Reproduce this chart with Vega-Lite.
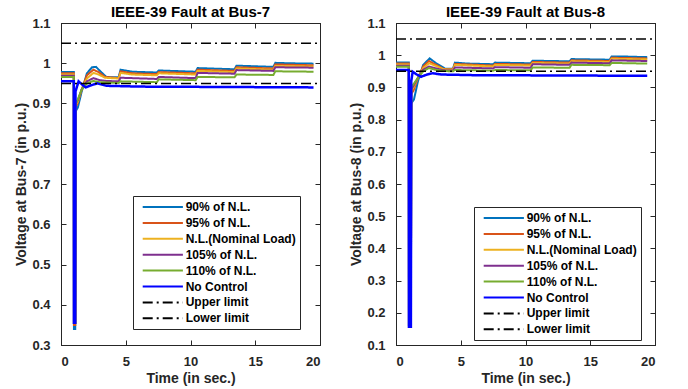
{
  "$schema": "https://vega.github.io/schema/vega-lite/v6.json",
  "background": "white",
  "padding": {"left": 14, "top": 4, "right": 5, "bottom": 2},
  "spacing": 28,
  "config": {
    "view": {"stroke": "#262626", "strokeWidth": 1},
    "font": "Liberation Sans",
    "axis": {"grid": false, "domainColor": "#262626", "domainWidth": 1, "tickColor": "#262626", "tickSize": -5, "tickWidth": 1, "labelFont": "Liberation Sans", "labelFontSize": 13, "labelFontWeight": "bold", "labelColor": "#262626", "labelPadding": 16, "titleFont": "Liberation Sans", "titleFontSize": 14, "titleFontWeight": "bold", "titleColor": "#262626", "titlePadding": 3},
    "title": {"font": "Liberation Sans", "fontSize": 15, "fontWeight": "bold", "color": "#000000", "offset": -3},
    "legend": {"orient": "none", "title": null, "labelFont": "Liberation Sans", "labelFontSize": 12, "labelFontWeight": "bold", "labelColor": "#000000", "strokeColor": "#262626", "fillColor": "white", "padding": 4, "symbolStrokeWidth": 2, "rowPadding": 2.9, "labelOffset": 30, "symbolOffset": 4.7, "symbolSize": 144}
  },
  "resolve": {"scale": {"color": "independent", "strokeDash": "independent"}},
  "datasets": {
    "b7": [
      {"s": "90% of N.L.", "t": 0, "v": 0.978}, {"s": "90% of N.L.", "t": 0.99, "v": 0.978}, {"s": "90% of N.L.", "t": 1.0, "v": 0.34}, {"s": "90% of N.L.", "t": 1.1, "v": 0.34}, {"s": "90% of N.L.", "t": 1.12, "v": 0.88}, {"s": "90% of N.L.", "t": 1.3, "v": 0.89}, {"s": "90% of N.L.", "t": 1.6, "v": 0.93}, {"s": "90% of N.L.", "t": 2.0, "v": 0.975}, {"s": "90% of N.L.", "t": 2.4, "v": 0.99}, {"s": "90% of N.L.", "t": 2.7, "v": 0.991}, {"s": "90% of N.L.", "t": 3.1, "v": 0.978}, {"s": "90% of N.L.", "t": 3.5, "v": 0.966}, {"s": "90% of N.L.", "t": 4.0, "v": 0.965}, {"s": "90% of N.L.", "t": 4.45, "v": 0.965}, {"s": "90% of N.L.", "t": 4.6, "v": 0.984}, {"s": "90% of N.L.", "t": 5.5, "v": 0.979}, {"s": "90% of N.L.", "t": 7.4, "v": 0.977}, {"s": "90% of N.L.", "t": 7.55, "v": 0.982}, {"s": "90% of N.L.", "t": 10.4, "v": 0.979}, {"s": "90% of N.L.", "t": 10.55, "v": 0.988}, {"s": "90% of N.L.", "t": 13.4, "v": 0.985}, {"s": "90% of N.L.", "t": 13.55, "v": 0.994}, {"s": "90% of N.L.", "t": 16.4, "v": 0.991}, {"s": "90% of N.L.", "t": 16.55, "v": 1.001}, {"s": "90% of N.L.", "t": 17.5, "v": 1.0}, {"s": "90% of N.L.", "t": 19.5, "v": 0.999},
      {"s": "95% of N.L.", "t": 0, "v": 0.975}, {"s": "95% of N.L.", "t": 0.99, "v": 0.975}, {"s": "95% of N.L.", "t": 1.0, "v": 0.35}, {"s": "95% of N.L.", "t": 1.1, "v": 0.35}, {"s": "95% of N.L.", "t": 1.12, "v": 0.89}, {"s": "95% of N.L.", "t": 1.3, "v": 0.902}, {"s": "95% of N.L.", "t": 1.6, "v": 0.935}, {"s": "95% of N.L.", "t": 2.0, "v": 0.97}, {"s": "95% of N.L.", "t": 2.5, "v": 0.984}, {"s": "95% of N.L.", "t": 2.9, "v": 0.978}, {"s": "95% of N.L.", "t": 3.4, "v": 0.966}, {"s": "95% of N.L.", "t": 4.45, "v": 0.963}, {"s": "95% of N.L.", "t": 4.6, "v": 0.98}, {"s": "95% of N.L.", "t": 5.5, "v": 0.975}, {"s": "95% of N.L.", "t": 7.4, "v": 0.973}, {"s": "95% of N.L.", "t": 7.55, "v": 0.978}, {"s": "95% of N.L.", "t": 10.4, "v": 0.975}, {"s": "95% of N.L.", "t": 10.55, "v": 0.984}, {"s": "95% of N.L.", "t": 13.4, "v": 0.981}, {"s": "95% of N.L.", "t": 13.55, "v": 0.99}, {"s": "95% of N.L.", "t": 16.4, "v": 0.987}, {"s": "95% of N.L.", "t": 16.55, "v": 0.997}, {"s": "95% of N.L.", "t": 19.5, "v": 0.995},
      {"s": "N.L.(Nominal Load)", "t": 0, "v": 0.972}, {"s": "N.L.(Nominal Load)", "t": 0.99, "v": 0.972}, {"s": "N.L.(Nominal Load)", "t": 1.0, "v": 0.355}, {"s": "N.L.(Nominal Load)", "t": 1.1, "v": 0.355}, {"s": "N.L.(Nominal Load)", "t": 1.12, "v": 0.895}, {"s": "N.L.(Nominal Load)", "t": 1.3, "v": 0.905}, {"s": "N.L.(Nominal Load)", "t": 1.6, "v": 0.935}, {"s": "N.L.(Nominal Load)", "t": 2.0, "v": 0.962}, {"s": "N.L.(Nominal Load)", "t": 2.5, "v": 0.976}, {"s": "N.L.(Nominal Load)", "t": 2.9, "v": 0.972}, {"s": "N.L.(Nominal Load)", "t": 3.4, "v": 0.964}, {"s": "N.L.(Nominal Load)", "t": 4.45, "v": 0.962}, {"s": "N.L.(Nominal Load)", "t": 4.6, "v": 0.976}, {"s": "N.L.(Nominal Load)", "t": 5.5, "v": 0.972}, {"s": "N.L.(Nominal Load)", "t": 7.4, "v": 0.97}, {"s": "N.L.(Nominal Load)", "t": 7.55, "v": 0.975}, {"s": "N.L.(Nominal Load)", "t": 10.4, "v": 0.972}, {"s": "N.L.(Nominal Load)", "t": 10.55, "v": 0.981}, {"s": "N.L.(Nominal Load)", "t": 13.4, "v": 0.978}, {"s": "N.L.(Nominal Load)", "t": 13.55, "v": 0.987}, {"s": "N.L.(Nominal Load)", "t": 16.4, "v": 0.984}, {"s": "N.L.(Nominal Load)", "t": 16.55, "v": 0.993}, {"s": "N.L.(Nominal Load)", "t": 19.5, "v": 0.992},
      {"s": "105% of N.L.", "t": 0, "v": 0.969}, {"s": "105% of N.L.", "t": 0.99, "v": 0.969}, {"s": "105% of N.L.", "t": 1.0, "v": 0.355}, {"s": "105% of N.L.", "t": 1.1, "v": 0.355}, {"s": "105% of N.L.", "t": 1.12, "v": 0.9}, {"s": "105% of N.L.", "t": 1.3, "v": 0.908}, {"s": "105% of N.L.", "t": 1.6, "v": 0.935}, {"s": "105% of N.L.", "t": 2.0, "v": 0.955}, {"s": "105% of N.L.", "t": 2.5, "v": 0.963}, {"s": "105% of N.L.", "t": 3.0, "v": 0.958}, {"s": "105% of N.L.", "t": 3.5, "v": 0.956}, {"s": "105% of N.L.", "t": 4.45, "v": 0.955}, {"s": "105% of N.L.", "t": 4.6, "v": 0.964}, {"s": "105% of N.L.", "t": 7.4, "v": 0.961}, {"s": "105% of N.L.", "t": 7.55, "v": 0.966}, {"s": "105% of N.L.", "t": 10.4, "v": 0.963}, {"s": "105% of N.L.", "t": 10.55, "v": 0.976}, {"s": "105% of N.L.", "t": 13.4, "v": 0.974}, {"s": "105% of N.L.", "t": 13.55, "v": 0.983}, {"s": "105% of N.L.", "t": 16.4, "v": 0.981}, {"s": "105% of N.L.", "t": 16.55, "v": 0.99}, {"s": "105% of N.L.", "t": 19.5, "v": 0.989},
      {"s": "110% of N.L.", "t": 0, "v": 0.966}, {"s": "110% of N.L.", "t": 0.99, "v": 0.966}, {"s": "110% of N.L.", "t": 1.0, "v": 0.355}, {"s": "110% of N.L.", "t": 1.1, "v": 0.355}, {"s": "110% of N.L.", "t": 1.12, "v": 0.9}, {"s": "110% of N.L.", "t": 1.3, "v": 0.91}, {"s": "110% of N.L.", "t": 1.6, "v": 0.935}, {"s": "110% of N.L.", "t": 2.0, "v": 0.95}, {"s": "110% of N.L.", "t": 2.5, "v": 0.956}, {"s": "110% of N.L.", "t": 3.0, "v": 0.953}, {"s": "110% of N.L.", "t": 4.45, "v": 0.951}, {"s": "110% of N.L.", "t": 4.6, "v": 0.955}, {"s": "110% of N.L.", "t": 7.4, "v": 0.953}, {"s": "110% of N.L.", "t": 7.55, "v": 0.96}, {"s": "110% of N.L.", "t": 10.4, "v": 0.958}, {"s": "110% of N.L.", "t": 10.55, "v": 0.966}, {"s": "110% of N.L.", "t": 13.4, "v": 0.965}, {"s": "110% of N.L.", "t": 13.55, "v": 0.972}, {"s": "110% of N.L.", "t": 16.4, "v": 0.971}, {"s": "110% of N.L.", "t": 16.55, "v": 0.98}, {"s": "110% of N.L.", "t": 19.5, "v": 0.979},
      {"s": "No Control", "t": 0, "v": 0.955}, {"s": "No Control", "t": 0.99, "v": 0.955}, {"s": "No Control", "t": 1.0, "v": 0.355}, {"s": "No Control", "t": 1.1, "v": 0.355}, {"s": "No Control", "t": 1.12, "v": 0.93}, {"s": "No Control", "t": 1.36, "v": 0.955}, {"s": "No Control", "t": 1.6, "v": 0.948}, {"s": "No Control", "t": 1.9, "v": 0.94}, {"s": "No Control", "t": 2.3, "v": 0.945}, {"s": "No Control", "t": 2.8, "v": 0.95}, {"s": "No Control", "t": 3.5, "v": 0.944}, {"s": "No Control", "t": 6, "v": 0.942}, {"s": "No Control", "t": 19.5, "v": 0.94},
      {"s": "Upper limit", "t": 0, "v": 1.05}, {"s": "Upper limit", "t": 20, "v": 1.05},
      {"s": "Lower limit", "t": 0, "v": 0.95}, {"s": "Lower limit", "t": 20, "v": 0.95}
    ],
    "b8": [
      {"s": "90% of N.L.", "t": 0, "v": 0.977}, {"s": "90% of N.L.", "t": 0.99, "v": 0.977}, {"s": "90% of N.L.", "t": 1.0, "v": 0.157}, {"s": "90% of N.L.", "t": 1.15, "v": 0.157}, {"s": "90% of N.L.", "t": 1.18, "v": 0.85}, {"s": "90% of N.L.", "t": 1.39, "v": 0.863}, {"s": "90% of N.L.", "t": 1.7, "v": 0.92}, {"s": "90% of N.L.", "t": 2.1, "v": 0.97}, {"s": "90% of N.L.", "t": 2.6, "v": 0.99}, {"s": "90% of N.L.", "t": 3.1, "v": 0.975}, {"s": "90% of N.L.", "t": 3.8, "v": 0.958}, {"s": "90% of N.L.", "t": 4.4, "v": 0.958}, {"s": "90% of N.L.", "t": 4.55, "v": 0.977}, {"s": "90% of N.L.", "t": 5.5, "v": 0.974}, {"s": "90% of N.L.", "t": 7.5, "v": 0.972}, {"s": "90% of N.L.", "t": 7.65, "v": 0.977}, {"s": "90% of N.L.", "t": 10.4, "v": 0.975}, {"s": "90% of N.L.", "t": 10.55, "v": 0.983}, {"s": "90% of N.L.", "t": 13.4, "v": 0.981}, {"s": "90% of N.L.", "t": 13.55, "v": 0.988}, {"s": "90% of N.L.", "t": 16.5, "v": 0.986}, {"s": "90% of N.L.", "t": 16.65, "v": 0.996}, {"s": "90% of N.L.", "t": 17.5, "v": 0.996}, {"s": "90% of N.L.", "t": 19.4, "v": 0.994},
      {"s": "95% of N.L.", "t": 0, "v": 0.974}, {"s": "95% of N.L.", "t": 0.99, "v": 0.974}, {"s": "95% of N.L.", "t": 1.0, "v": 0.16}, {"s": "95% of N.L.", "t": 1.15, "v": 0.16}, {"s": "95% of N.L.", "t": 1.18, "v": 0.88}, {"s": "95% of N.L.", "t": 1.35, "v": 0.89}, {"s": "95% of N.L.", "t": 1.7, "v": 0.93}, {"s": "95% of N.L.", "t": 2.1, "v": 0.965}, {"s": "95% of N.L.", "t": 2.55, "v": 0.982}, {"s": "95% of N.L.", "t": 3.0, "v": 0.972}, {"s": "95% of N.L.", "t": 3.7, "v": 0.957}, {"s": "95% of N.L.", "t": 4.4, "v": 0.956}, {"s": "95% of N.L.", "t": 4.55, "v": 0.973}, {"s": "95% of N.L.", "t": 7.5, "v": 0.968}, {"s": "95% of N.L.", "t": 7.65, "v": 0.973}, {"s": "95% of N.L.", "t": 10.4, "v": 0.971}, {"s": "95% of N.L.", "t": 10.55, "v": 0.979}, {"s": "95% of N.L.", "t": 13.4, "v": 0.977}, {"s": "95% of N.L.", "t": 13.55, "v": 0.984}, {"s": "95% of N.L.", "t": 16.5, "v": 0.982}, {"s": "95% of N.L.", "t": 16.65, "v": 0.992}, {"s": "95% of N.L.", "t": 19.4, "v": 0.99},
      {"s": "N.L.(Nominal Load)", "t": 0, "v": 0.971}, {"s": "N.L.(Nominal Load)", "t": 0.99, "v": 0.971}, {"s": "N.L.(Nominal Load)", "t": 1.0, "v": 0.162}, {"s": "N.L.(Nominal Load)", "t": 1.15, "v": 0.162}, {"s": "N.L.(Nominal Load)", "t": 1.18, "v": 0.89}, {"s": "N.L.(Nominal Load)", "t": 1.35, "v": 0.9}, {"s": "N.L.(Nominal Load)", "t": 1.7, "v": 0.93}, {"s": "N.L.(Nominal Load)", "t": 2.1, "v": 0.96}, {"s": "N.L.(Nominal Load)", "t": 2.55, "v": 0.975}, {"s": "N.L.(Nominal Load)", "t": 3.0, "v": 0.968}, {"s": "N.L.(Nominal Load)", "t": 3.7, "v": 0.956}, {"s": "N.L.(Nominal Load)", "t": 4.4, "v": 0.955}, {"s": "N.L.(Nominal Load)", "t": 4.55, "v": 0.97}, {"s": "N.L.(Nominal Load)", "t": 7.5, "v": 0.965}, {"s": "N.L.(Nominal Load)", "t": 7.65, "v": 0.97}, {"s": "N.L.(Nominal Load)", "t": 10.4, "v": 0.968}, {"s": "N.L.(Nominal Load)", "t": 10.55, "v": 0.976}, {"s": "N.L.(Nominal Load)", "t": 13.4, "v": 0.974}, {"s": "N.L.(Nominal Load)", "t": 13.55, "v": 0.981}, {"s": "N.L.(Nominal Load)", "t": 16.5, "v": 0.979}, {"s": "N.L.(Nominal Load)", "t": 16.65, "v": 0.989}, {"s": "N.L.(Nominal Load)", "t": 19.4, "v": 0.987},
      {"s": "105% of N.L.", "t": 0, "v": 0.967}, {"s": "105% of N.L.", "t": 0.99, "v": 0.967}, {"s": "105% of N.L.", "t": 1.0, "v": 0.162}, {"s": "105% of N.L.", "t": 1.15, "v": 0.162}, {"s": "105% of N.L.", "t": 1.18, "v": 0.895}, {"s": "105% of N.L.", "t": 1.35, "v": 0.905}, {"s": "105% of N.L.", "t": 1.7, "v": 0.93}, {"s": "105% of N.L.", "t": 2.1, "v": 0.955}, {"s": "105% of N.L.", "t": 2.55, "v": 0.965}, {"s": "105% of N.L.", "t": 3.0, "v": 0.96}, {"s": "105% of N.L.", "t": 3.7, "v": 0.953}, {"s": "105% of N.L.", "t": 4.4, "v": 0.952}, {"s": "105% of N.L.", "t": 4.55, "v": 0.962}, {"s": "105% of N.L.", "t": 7.5, "v": 0.959}, {"s": "105% of N.L.", "t": 7.65, "v": 0.963}, {"s": "105% of N.L.", "t": 10.4, "v": 0.961}, {"s": "105% of N.L.", "t": 10.55, "v": 0.972}, {"s": "105% of N.L.", "t": 13.4, "v": 0.97}, {"s": "105% of N.L.", "t": 13.55, "v": 0.977}, {"s": "105% of N.L.", "t": 16.5, "v": 0.975}, {"s": "105% of N.L.", "t": 16.65, "v": 0.984}, {"s": "105% of N.L.", "t": 19.4, "v": 0.982},
      {"s": "110% of N.L.", "t": 0, "v": 0.964}, {"s": "110% of N.L.", "t": 0.99, "v": 0.964}, {"s": "110% of N.L.", "t": 1.0, "v": 0.162}, {"s": "110% of N.L.", "t": 1.15, "v": 0.162}, {"s": "110% of N.L.", "t": 1.18, "v": 0.9}, {"s": "110% of N.L.", "t": 1.35, "v": 0.91}, {"s": "110% of N.L.", "t": 1.7, "v": 0.93}, {"s": "110% of N.L.", "t": 2.1, "v": 0.95}, {"s": "110% of N.L.", "t": 2.55, "v": 0.96}, {"s": "110% of N.L.", "t": 3.0, "v": 0.955}, {"s": "110% of N.L.", "t": 3.7, "v": 0.951}, {"s": "110% of N.L.", "t": 4.4, "v": 0.95}, {"s": "110% of N.L.", "t": 4.55, "v": 0.954}, {"s": "110% of N.L.", "t": 7.5, "v": 0.952}, {"s": "110% of N.L.", "t": 7.65, "v": 0.954}, {"s": "110% of N.L.", "t": 10.4, "v": 0.953}, {"s": "110% of N.L.", "t": 10.55, "v": 0.962}, {"s": "110% of N.L.", "t": 13.4, "v": 0.961}, {"s": "110% of N.L.", "t": 13.55, "v": 0.97}, {"s": "110% of N.L.", "t": 16.5, "v": 0.969}, {"s": "110% of N.L.", "t": 16.65, "v": 0.976}, {"s": "110% of N.L.", "t": 19.4, "v": 0.974},
      {"s": "No Control", "t": 0, "v": 0.954}, {"s": "No Control", "t": 0.99, "v": 0.954}, {"s": "No Control", "t": 1.0, "v": 0.157}, {"s": "No Control", "t": 1.15, "v": 0.157}, {"s": "No Control", "t": 1.18, "v": 0.92}, {"s": "No Control", "t": 1.29, "v": 0.949}, {"s": "No Control", "t": 1.6, "v": 0.94}, {"s": "No Control", "t": 1.93, "v": 0.933}, {"s": "No Control", "t": 2.4, "v": 0.94}, {"s": "No Control", "t": 2.83, "v": 0.944}, {"s": "No Control", "t": 3.5, "v": 0.94}, {"s": "No Control", "t": 6, "v": 0.938}, {"s": "No Control", "t": 19.4, "v": 0.936},
      {"s": "Upper limit", "t": 0, "v": 1.05}, {"s": "Upper limit", "t": 20, "v": 1.05},
      {"s": "Lower limit", "t": 0, "v": 0.95}, {"s": "Lower limit", "t": 20, "v": 0.95}
    ]
  },
  "hconcat": [
    {
      "title": "IEEE-39 Fault at Bus-7",
      "width": 259,
      "height": 322,
      "data": {"name": "b7"},
      "resolve": {"axis": {"x": "independent", "y": "independent"}},
      "layer": [
        {
          "transform": [{"filter": {"field": "s", "oneOf": ["90% of N.L.", "95% of N.L.", "N.L.(Nominal Load)", "105% of N.L.", "110% of N.L."]}}],
          "mark": {"type": "line", "strokeWidth": 2, "clip": true},
          "encoding": {
            "x": {"field": "t", "type": "quantitative", "scale": {"domain": [0, 20], "nice": false}, "axis": {"values": [0, 5, 10, 15, 20], "format": "~g", "title": "Time (in sec.)", "labelPadding": 15}},
            "y": {"field": "v", "type": "quantitative", "scale": {"domain": [0.3, 1.1], "nice": false, "zero": false}, "axis": {"values": [0.3, 0.4, 0.5, 0.6, 0.7, 0.8, 0.9, 1, 1.1], "format": "~g", "title": "Voltage at Bus-7 (in p.u.)"}},
            "color": {"field": "s", "type": "nominal", "scale": {"domain": ["90% of N.L.", "95% of N.L.", "N.L.(Nominal Load)", "105% of N.L.", "110% of N.L.", "No Control", "Upper limit", "Lower limit"], "range": ["#0072BD", "#D95319", "#EDB120", "#7E2F8E", "#77AC30", "#0000FF", "#000000", "#000000"]}, "legend": {"legendX": 72, "legendY": 173, "symbolType": "M-1,0H5.7"}},
            "strokeDash": {"field": "s", "type": "nominal", "scale": {"domain": ["90% of N.L.", "95% of N.L.", "N.L.(Nominal Load)", "105% of N.L.", "110% of N.L.", "No Control", "Upper limit", "Lower limit"], "range": [[1, 0], [1, 0], [1, 0], [1, 0], [1, 0], [1, 0], [10, 4, 2, 4], [10, 4, 2, 4]]}, "legend": {"legendX": 72, "legendY": 173, "symbolType": "M-1,0H5.7"}}
          }
        },
        {
          "transform": [{"filter": {"field": "s", "equal": "No Control"}}],
          "mark": {"type": "line", "strokeWidth": 2.5, "clip": true},
          "encoding": {
            "x": {"field": "t", "type": "quantitative", "axis": null},
            "y": {"field": "v", "type": "quantitative", "axis": null},
            "color": {"field": "s", "type": "nominal"},
            "strokeDash": {"field": "s", "type": "nominal"}
          }
        },
        {
          "transform": [{"filter": {"field": "s", "oneOf": ["Upper limit", "Lower limit"]}}],
          "mark": {"type": "line", "strokeWidth": 1.5, "clip": true},
          "encoding": {
            "x": {"field": "t", "type": "quantitative", "axis": {"orient": "top", "labels": false, "title": null, "values": [0, 5, 10, 15, 20]}},
            "y": {"field": "v", "type": "quantitative", "axis": {"orient": "right", "labels": false, "title": null, "values": [0.3, 0.4, 0.5, 0.6, 0.7, 0.8, 0.9, 1, 1.1]}},
            "color": {"field": "s", "type": "nominal"},
            "strokeDash": {"field": "s", "type": "nominal"}
          }
        }
      ]
    },
    {
      "title": "IEEE-39 Fault at Bus-8",
      "width": 259,
      "height": 322,
      "data": {"name": "b8"},
      "resolve": {"axis": {"x": "independent", "y": "independent"}},
      "layer": [
        {
          "transform": [{"filter": {"field": "s", "oneOf": ["90% of N.L.", "95% of N.L.", "N.L.(Nominal Load)", "105% of N.L.", "110% of N.L."]}}],
          "mark": {"type": "line", "strokeWidth": 2, "clip": true},
          "encoding": {
            "x": {"field": "t", "type": "quantitative", "scale": {"domain": [0, 20], "nice": false}, "axis": {"values": [0, 5, 10, 15, 20], "format": "~g", "title": "Time (in sec.)", "labelPadding": 15}},
            "y": {"field": "v", "type": "quantitative", "scale": {"domain": [0.1, 1.1], "nice": false, "zero": false}, "axis": {"values": [0.1, 0.2, 0.3, 0.4, 0.5, 0.6, 0.7, 0.8, 0.9, 1, 1.1], "format": "~g", "title": "Voltage at Bus-8 (in p.u.)"}},
            "color": {"field": "s", "type": "nominal", "scale": {"domain": ["90% of N.L.", "95% of N.L.", "N.L.(Nominal Load)", "105% of N.L.", "110% of N.L.", "No Control", "Upper limit", "Lower limit"], "range": ["#0072BD", "#D95319", "#EDB120", "#7E2F8E", "#77AC30", "#0000FF", "#000000", "#000000"]}, "legend": {"legendX": 78, "legendY": 184, "symbolType": "M-1,0H5.7"}},
            "strokeDash": {"field": "s", "type": "nominal", "scale": {"domain": ["90% of N.L.", "95% of N.L.", "N.L.(Nominal Load)", "105% of N.L.", "110% of N.L.", "No Control", "Upper limit", "Lower limit"], "range": [[1, 0], [1, 0], [1, 0], [1, 0], [1, 0], [1, 0], [10, 4, 2, 4], [10, 4, 2, 4]]}, "legend": {"legendX": 78, "legendY": 184, "symbolType": "M-1,0H5.7"}}
          }
        },
        {
          "transform": [{"filter": {"field": "s", "equal": "No Control"}}],
          "mark": {"type": "line", "strokeWidth": 2.5, "clip": true},
          "encoding": {
            "x": {"field": "t", "type": "quantitative", "axis": null},
            "y": {"field": "v", "type": "quantitative", "axis": null},
            "color": {"field": "s", "type": "nominal"},
            "strokeDash": {"field": "s", "type": "nominal"}
          }
        },
        {
          "transform": [{"filter": {"field": "s", "oneOf": ["Upper limit", "Lower limit"]}}],
          "mark": {"type": "line", "strokeWidth": 1.5, "clip": true},
          "encoding": {
            "x": {"field": "t", "type": "quantitative", "axis": {"orient": "top", "labels": false, "title": null, "values": [0, 5, 10, 15, 20]}},
            "y": {"field": "v", "type": "quantitative", "axis": {"orient": "right", "labels": false, "title": null, "values": [0.1, 0.2, 0.3, 0.4, 0.5, 0.6, 0.7, 0.8, 0.9, 1, 1.1]}},
            "color": {"field": "s", "type": "nominal"},
            "strokeDash": {"field": "s", "type": "nominal"}
          }
        }
      ]
    }
  ]
}
